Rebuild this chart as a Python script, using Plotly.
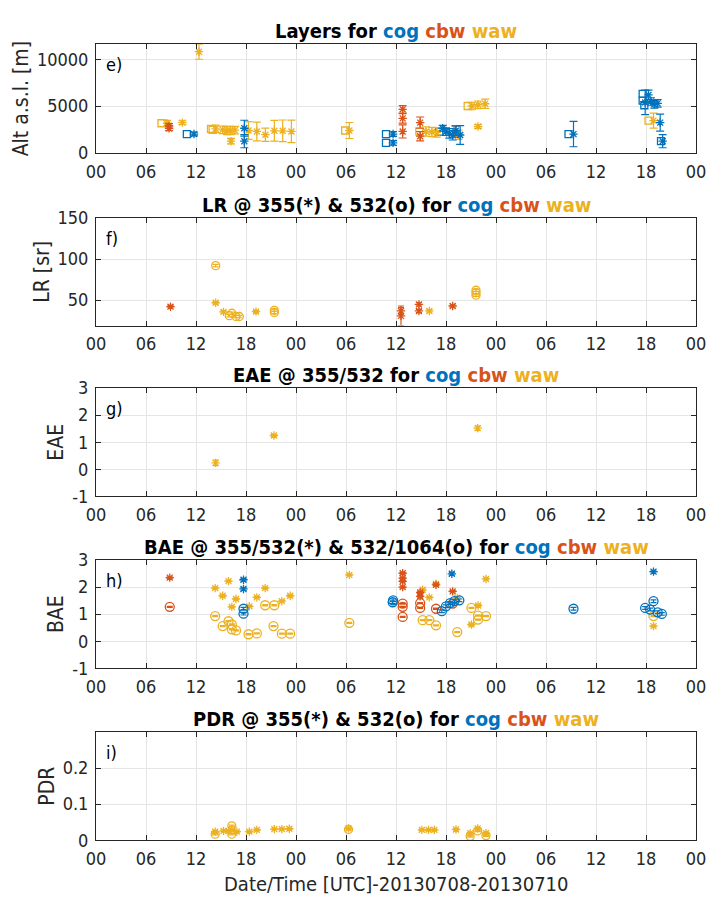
import plotly.graph_objects as go

W, H = 712, 906
COG, CBW, WAW = "#0072BD", "#D95319", "#EDB120"
FONT = "DejaVu Sans Condensed, Liberation Sans Narrow, Liberation Sans, Arial, sans-serif"
TXT = "#262626"

# ---------------- data (hours since 2013-07-08 00 UTC) ----------------
tick_vals = list(range(0, 73, 6))
tick_text = ["00", "06", "12", "18", "00", "06", "12", "18", "00", "06", "12", "18", "00"]

# e) layers: star = mean time, square = start time
e_cog_t = [11.76, 17.8, 17.8, 35.65, 35.65, 41.6, 42.0, 42.4, 42.8, 43.2, 43.7, 57.3, 65.9, 66.3, 66.6, 67.0, 67.4, 67.7, 68.0]
e_cog_y = [2030, 2650, 1270, 2030, 1090, 2650, 2300, 2100, 1900, 2400, 1930, 2030, 5400, 6200, 5500, 5200, 5300, 3250, 1270]
e_cog_err = [200, 850, 700, 250, 250, 300, 400, 500, 500, 500, 1000, 1350, 1300, 500, 400, 400, 400, 900, 700]
e_cog_sq_t = [10.9, 34.8, 34.8, 41.2, 56.7, 65.6, 65.6, 65.8, 67.8]
e_cog_sq_y = [2030, 2030, 1090, 2300, 2030, 6300, 5600, 5100, 1270]

e_cbw_t = [8.77, 8.77, 36.8, 36.8, 36.8, 38.9, 38.9, 43.1]
e_cbw_y = [2650, 2900, 4670, 3700, 2310, 3250, 1800, 2310]
e_cbw_err = [250, 250, 400, 500, 700, 600, 500, 600]

e_waw_t = [8.53, 10.37, 12.36, 14.35, 15.2, 15.7, 16.15, 16.2, 16.67, 18.3, 19.3, 20.33, 21.4, 22.4, 23.45,
           30.4, 39.6, 40.3, 40.9, 43.5, 45.1, 45.85, 46.7, 45.85, 66.9]
e_waw_y = [3180, 3250, 10800, 2580, 2480, 2410, 2410, 1270, 2450, 2410, 2310, 1960, 2380, 2380, 2310,
           2410, 2310, 2250, 2200, 1960, 5020, 5150, 5260, 2830, 3460]
e_waw_err = [300, 200, 800, 400, 400, 450, 450, 300, 400, 950, 1000, 700, 1100, 1150, 1200,
             850, 500, 500, 500, 500, 400, 400, 500, 200, 800]
e_waw_sq_t = [7.86, 13.8, 14.0, 38.8, 44.6, 66.3, 29.9]
e_waw_sq_y = [3180, 2580, 2480, 2310, 5020, 3460, 2410]

# f) lidar ratio
f_cbw_star_t = [8.94, 36.6, 36.6, 38.75, 38.75, 42.8]
f_cbw_star_y = [42, 36.8, 30.8, 44.8, 36.8, 42.8]
f_cbw_star_err = [1.5, 4, 12, 2, 2, 1.5]
f_waw_star_t = [14.36, 15.3, 19.2, 40.0]
f_waw_star_y = [46.8, 35.6, 36, 36.8]
f_waw_circ_t = [14.36, 16.0, 16.3, 16.8, 17.2, 21.4, 21.4, 45.6, 45.6, 45.6]
f_waw_circ_y = [92, 31, 34, 30, 30, 37.6, 35, 62, 59, 56]

# g) extinction Angstrom exponent
g_waw_t = [14.36, 21.35, 45.8]
g_waw_y = [0.24, 1.25, 1.52]
g_waw_err = [0.1, 0.03, 0.08]

# h) backscatter Angstrom exponent
h_cog_star_t = [17.7, 17.7, 42.7, 66.9]
h_cog_star_y = [2.27, 1.93, 2.49, 2.57]
h_cog_circ_t = [17.7, 17.7, 35.6, 35.65, 41.5, 42.0, 42.5, 43.0, 43.6, 57.3, 65.9, 66.5, 66.9, 67.4, 67.9]
h_cog_circ_y = [1.2, 1.02, 1.44, 1.51, 1.11, 1.29, 1.41, 1.48, 1.51, 1.2, 1.23, 1.17, 1.48, 1.07, 1.01]
h_cbw_star_t = [8.85, 36.8, 36.8, 36.8, 36.8, 38.9, 38.9, 40.8, 42.8]
h_cbw_star_y = [2.35, 2.51, 2.33, 2.21, 2.0, 1.66, 1.80, 2.08, 1.84]
h_cbw_circ_t = [8.85, 36.8, 36.8, 36.8, 38.9, 38.9, 40.8, 42.8]
h_cbw_circ_y = [1.27, 1.39, 1.27, 0.9, 1.41, 1.23, 1.2, 1.39]
h_waw_star_t = [14.3, 15.2, 15.9, 16.3, 16.8, 18.4, 19.3, 20.3, 22.3, 23.3, 30.4, 39.2, 40.0, 40.8, 43.35, 45.05, 45.85, 46.8, 66.9]
h_waw_star_y = [1.96, 1.68, 2.22, 1.27, 1.56, 1.29, 1.62, 1.96, 1.48, 1.68, 2.45, 1.9, 1.62, 2.12, 1.6, 0.62, 1.32, 2.3, 0.56]
h_waw_circ_t = [14.3, 15.2, 15.9, 16.3, 16.3, 16.8, 18.3, 19.3, 20.3, 21.3, 21.4, 22.3, 23.3, 30.4,
                39.2, 40.0, 40.8, 43.35, 45.05, 45.85, 45.85, 46.8, 66.9]
h_waw_circ_y = [0.93, 0.56, 0.74, 0.62, 0.44, 0.40, 0.26, 0.29, 1.33, 0.56, 1.33, 0.28, 0.28, 0.68,
                0.78, 0.78, 0.59, 0.34, 1.23, 0.95, 0.80, 0.93, 0.93]

# i) particle depolarisation ratio
i_waw_star_t = [14.3, 15.3, 15.9, 16.3, 16.9, 18.4, 19.3, 21.4, 22.3, 23.2, 30.3, 39.1, 39.9, 40.6, 43.2, 44.9, 45.8, 46.8]
i_waw_star_y = [0.024, 0.026, 0.026, 0.029, 0.024, 0.024, 0.029, 0.031, 0.031, 0.032, 0.033, 0.029, 0.029, 0.029, 0.030, 0.020, 0.033, 0.020]
i_waw_circ_t = [14.3, 16.3, 16.3, 30.3, 44.9, 45.8, 46.8]
i_waw_circ_y = [0.017, 0.040, 0.017, 0.030, 0.011, 0.026, 0.013]

# ---------------- layout geometry ----------------
frames = [(34, 145.5), (212, 322), (386, 497), (562, 673), (738, 849)]
titles = ["Layers for", "LR @ 355(*) & 532(o) for", "EAE @ 355/532 for",
          "BAE @ 355/532(*) & 532/1064(o) for", "PDR @ 355(*) & 532(o) for"]
plabels = ["e)", "f)", "g)", "h)", "i)"]
yranges = [[0, 11600], [19, 150], [-1, 3], [-1, 3], [0, 0.3]]
yticks = [[0, 5000, 10000], [50, 100, 150], [-1, 0, 1, 2, 3], [-1, 0, 1, 2, 3], [0, 0.1, 0.2]]
yticktext = [["0", "5000", "10000"], ["50", "100", "150"], ["-1", "0", "1", "2", "3"],
             ["-1", "0", "1", "2", "3"], ["0", "0.1", "0.2"]]
ytitles = ["Alt a.s.l. [m]", "LR [sr]", "EAE", "BAE", "PDR"]
ML, MR = 96, 16

fig = go.Figure()


def add(row, t, y, color, symbol, size, err=None, cap=3):
    ax = "" if row == 1 else str(row)
    kw = {}
    if err is not None:
        kw["error_y"] = dict(type="data", array=err, color=color, thickness=1.2, width=cap)
    fig.add_trace(go.Scatter(
        x=t, y=y, mode="markers", xaxis="x" + ax, yaxis="y" + ax,
        marker=dict(symbol=symbol, size=size, color=color, line=dict(color=color, width=1.3)),
        showlegend=False, hoverinfo="skip", **kw))


def small(v, frac):
    return [frac] * len(v)


# e)
add(1, e_cog_sq_t, e_cog_sq_y, COG, "square-open", 7)
add(1, e_waw_sq_t, e_waw_sq_y, WAW, "square-open", 7)
add(1, e_waw_t, e_waw_y, WAW, "asterisk-open", 7, e_waw_err, cap=4)
add(1, e_cbw_t, e_cbw_y, CBW, "asterisk-open", 7, e_cbw_err, cap=4)
add(1, e_cog_t, e_cog_y, COG, "asterisk-open", 7, e_cog_err, cap=4)
# f)
add(2, f_waw_circ_t, f_waw_circ_y, WAW, "circle-open", 8, small(f_waw_circ_y, 1.5))
add(2, f_waw_star_t, f_waw_star_y, WAW, "asterisk-open", 7, small(f_waw_star_y, 1.5))
add(2, f_cbw_star_t, f_cbw_star_y, CBW, "asterisk-open", 7, f_cbw_star_err)
# g)
add(3, g_waw_t, g_waw_y, WAW, "asterisk-open", 7, g_waw_err)
# h)
add(4, h_waw_circ_t, h_waw_circ_y, WAW, "circle-open", 9, small(h_waw_circ_y, 0.02))
add(4, h_waw_star_t, h_waw_star_y, WAW, "asterisk-open", 7, small(h_waw_star_y, 0.03))
add(4, h_cbw_circ_t, h_cbw_circ_y, CBW, "circle-open", 9, small(h_cbw_circ_y, 0.02))
add(4, h_cbw_star_t, h_cbw_star_y, CBW, "asterisk-open", 7, small(h_cbw_star_y, 0.03))
add(4, h_cog_circ_t, h_cog_circ_y, COG, "circle-open", 9, small(h_cog_circ_y, 0.05))
add(4, h_cog_star_t, h_cog_star_y, COG, "asterisk-open", 7, small(h_cog_star_y, 0.05))
# i)
add(5, i_waw_circ_t, i_waw_circ_y, WAW, "circle-open", 8, small(i_waw_circ_y, 0.002))
add(5, i_waw_star_t, i_waw_star_y, WAW, "asterisk-open", 7, small(i_waw_star_y, 0.002))

axis_common = dict(showline=True, linecolor=TXT, linewidth=1, mirror="ticks", ticks="inside",
                   ticklen=5, tickcolor=TXT, showgrid=True, gridcolor="#e5e5e5", gridwidth=1,
                   zeroline=False, tickfont=dict(family=FONT, size=18, color=TXT))

annotations = []
for k in range(5):
    top, bot = frames[k]
    ax = "" if k == 0 else str(k + 1)
    dom = [1 - bot / H, 1 - top / H]
    fig.layout["xaxis" + ax] = dict(axis_common, domain=[0, 1], range=[0, 72], tickvals=tick_vals,
                                    ticktext=tick_text, anchor="y" + ax, ticklabelstandoff=2)
    fig.layout["yaxis" + ax] = dict(axis_common, domain=dom, range=yranges[k], tickvals=yticks[k],
                                    ticktext=yticktext[k], anchor="x" + ax, ticklabelstandoff=3,
                                    title=dict(text=ytitles[k], font=dict(family=FONT, size=21, color=TXT),
                                               standoff=2))
    annotations.append(dict(
        text=("<b>%s <span style='color:%s'>cog</span> <span style='color:%s'>cbw</span> "
              "<span style='color:%s'>waw</span></b>") % (titles[k], COG, CBW, WAW),
        xref="x%s domain" % ax, yref="y%s domain" % ax, x=0.5, y=1, yanchor="bottom",
        yshift=-1, showarrow=False, font=dict(family=FONT, size=20, color="#000000")))
    annotations.append(dict(text=plabels[k], xref="x%s domain" % ax, yref="y%s domain" % ax,
                            x=0.013, y=0.81, xanchor="left", yanchor="middle", showarrow=False,
                            font=dict(family=FONT, size=18, color="#000000")))

annotations.append(dict(text="Date/Time [UTC]-20130708-20130710", xref="paper", yref="paper",
                        x=0.5, y=1 - 894 / H, xanchor="center", yanchor="middle", showarrow=False,
                        font=dict(family=FONT, size=20, color=TXT)))

fig.update_layout(width=W, height=H, margin=dict(l=ML, r=MR, t=0, b=0),
                  paper_bgcolor="white", plot_bgcolor="white", annotations=annotations,
                  font=dict(family=FONT, color=TXT))

fig.write_html("out.html")
